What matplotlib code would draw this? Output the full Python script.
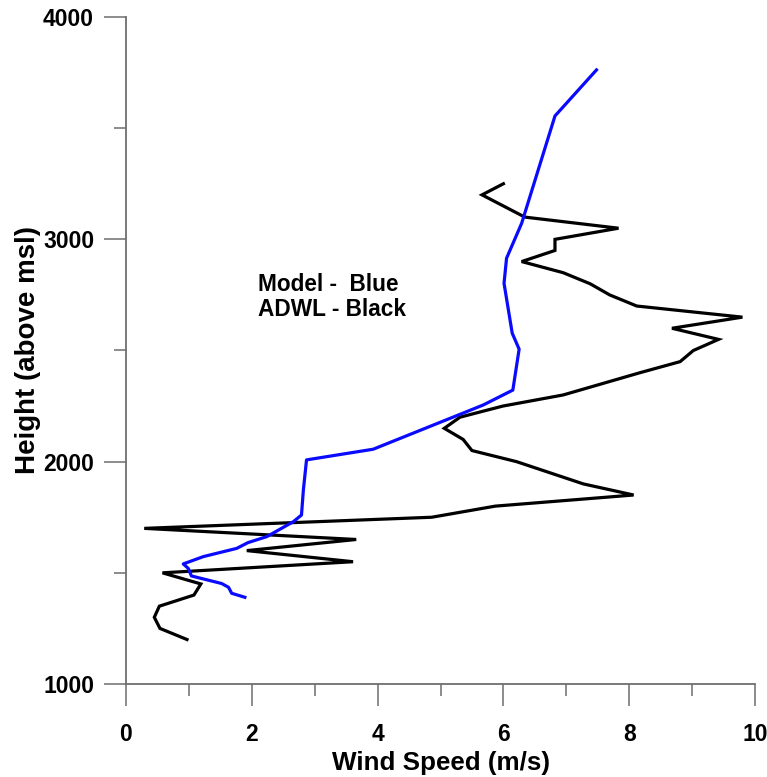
import matplotlib
matplotlib.use("Agg")
import matplotlib.pyplot as plt
from matplotlib.ticker import MultipleLocator

plt.rcParams['font.family'] = ['Liberation Sans', 'DejaVu Sans']
plt.rcParams['font.weight'] = 'bold'

# ADWL observations (black)
adwl_height = [1200, 1250, 1300, 1350, 1400, 1450, 1500, 1550, 1600, 1650, 1700,
               1750, 1800, 1850, 1900, 2000, 2050, 2100, 2150, 2200, 2250, 2300,
               2400, 2450, 2500, 2550, 2600, 2650, 2700, 2750, 2800, 2850, 2900,
               2950, 3000, 3050, 3100, 3200, 3250]
adwl_speed = [0.97, 0.54, 0.45, 0.53, 1.08, 1.19, 0.58, 3.61, 1.92, 3.66, 0.29,
              4.86, 5.87, 8.07, 7.27, 6.21, 5.50, 5.36, 5.06, 5.31, 5.99, 6.95,
              8.17, 8.81, 9.02, 9.42, 8.68, 9.80, 8.12, 7.69, 7.38, 6.95, 6.29,
              6.82, 6.82, 7.83, 6.34, 5.66, 6.00]

# Model (blue)
model_height = [1390, 1408, 1435, 1452, 1486, 1520, 1540, 1573, 1610, 1636, 1663,
                1730, 1760, 1873, 2008, 2056, 2255, 2322, 2506, 2578, 2802, 2915,
                3072, 3555, 3762]
model_speed = [1.89, 1.68, 1.63, 1.52, 1.04, 0.99, 0.91, 1.23, 1.76, 1.94, 2.24,
               2.66, 2.79, 2.82, 2.87, 3.93, 5.68, 6.15, 6.25, 6.14, 6.01, 6.05,
               6.29, 6.82, 7.48]

xticks = [0, 2, 4, 6, 8, 10]
yticks = [1000, 2000, 3000, 4000]

fig = plt.figure(figsize=(7.67, 7.77), dpi=100)
ax = fig.add_axes([126/767, 93/777, 629/767, 667/777])

ax.plot(adwl_speed, adwl_height, color='black', lw=2.3, solid_joinstyle='miter')
ax.plot(model_speed, model_height, color='#0a0aff', lw=2.3)

ax.set_xlim(0, 10)
ax.set_ylim(1000, 4000)
ax.set_xticks(xticks)
ax.set_yticks(yticks)
ax.xaxis.set_minor_locator(MultipleLocator(1))
ax.yaxis.set_minor_locator(MultipleLocator(500))

spine_color = '#6e6e6e'
for s in ['top', 'right']:
    ax.spines[s].set_visible(False)
for s in ['left', 'bottom']:
    ax.spines[s].set_color(spine_color)
    ax.spines[s].set_linewidth(1.3)

ax.tick_params(which='major', length=16, width=1.1, color=spine_color,
               labelsize=16.5, direction='out')
ax.tick_params(which='minor', length=8.5, width=1.1, color=spine_color, direction='out')
ax.tick_params(axis='x', which='major', pad=12)
ax.tick_params(axis='y', which='major', pad=7)
for lab in ax.get_xticklabels() + ax.get_yticklabels():
    lab.set_fontweight('bold')

ax.set_xlabel('Wind Speed (m/s)', fontsize=18.7, fontweight='bold', labelpad=4)
ax.set_ylabel('Height (above msl)', fontsize=20, fontweight='bold', labelpad=1.5)

ax.text(2.10, 2797, 'Model -  Blue', fontsize=16.3, fontweight='bold', va='center', ha='left')
ax.text(2.10, 2685, 'ADWL - Black', fontsize=16.3, fontweight='bold', va='center', ha='left')

fig.savefig('out.png', dpi=100)
